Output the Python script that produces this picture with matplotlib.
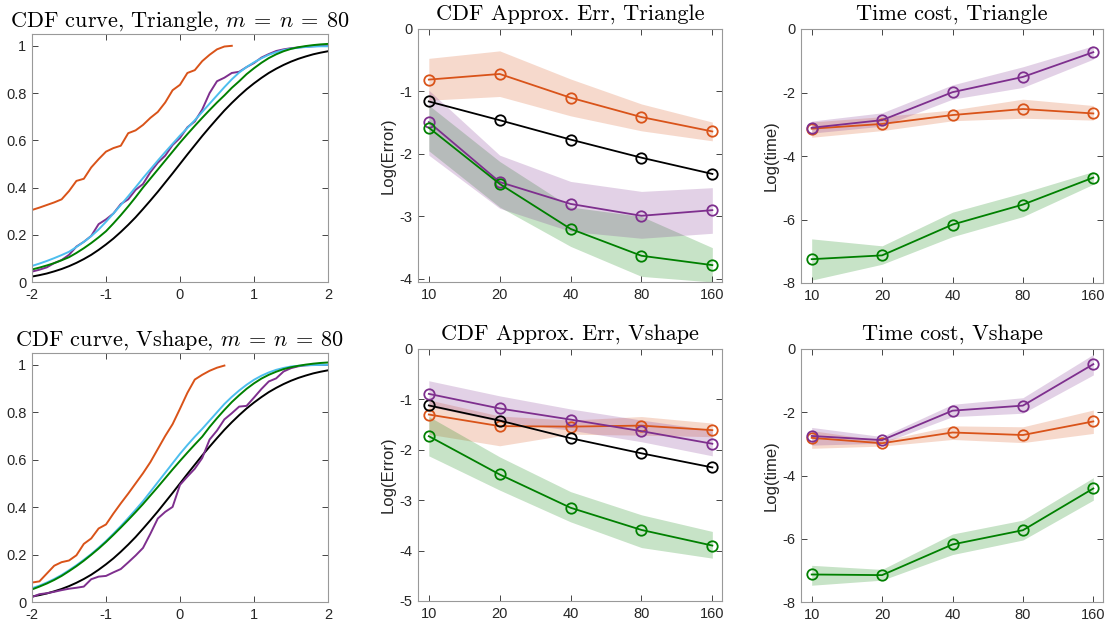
import numpy as np
import matplotlib.pyplot as plt

plt.rcParams['font.family'] = ['Liberation Sans', 'DejaVu Sans']
plt.rcParams['mathtext.fontset'] = 'cm'

ORANGE = '#D95319'
PURPLE = '#7E2F8E'
GREEN = '#008000'
CYAN = '#4DBEEE'
BLACK = '#000000'

# x grid of the CDF curves (-2 .. 2, step 0.1)
grid = np.round(np.linspace(-2, 2, 41), 1)
sizes = [10, 20, 40, 80, 160]

# ---- CDF curves, Triangle ----
true_cdf = [0.023, 0.029, 0.036, 0.045, 0.055, 0.067, 0.081, 0.097, 0.115, 0.136,
            0.159, 0.184, 0.212, 0.242, 0.274, 0.309, 0.345, 0.382, 0.421, 0.460,
            0.500, 0.540, 0.579, 0.618, 0.655, 0.691, 0.726, 0.758, 0.788, 0.816,
            0.841, 0.864, 0.885, 0.903, 0.919, 0.933, 0.945, 0.955, 0.964, 0.971, 0.977]
tri_orange = [0.305, 0.315, 0.326, 0.337, 0.350, 0.385, 0.428, 0.437, 0.485, 0.520,
              0.552, 0.567, 0.577, 0.630, 0.642, 0.665, 0.695, 0.720, 0.760, 0.812,
              0.835, 0.885, 0.897, 0.935, 0.962, 0.985, 0.997, 1.000]
tri_purple = [0.044, 0.052, 0.062, 0.080, 0.093, 0.115, 0.150, 0.170, 0.195, 0.245,
              0.265, 0.290, 0.330, 0.350, 0.390, 0.415, 0.465, 0.505, 0.535, 0.580,
              0.610, 0.655, 0.680, 0.730, 0.800, 0.850, 0.865, 0.885, 0.890, 0.910,
              0.927, 0.950, 0.965, 0.978, 0.985, 0.990, 0.993, 0.996, 0.998, 1.000, 1.000]
tri_cyan = [0.068, 0.078, 0.089, 0.101, 0.114, 0.128, 0.148, 0.170, 0.194, 0.222,
            0.255, 0.290, 0.326, 0.363, 0.401, 0.440, 0.477, 0.514, 0.550, 0.585,
            0.620, 0.652, 0.685, 0.720, 0.755, 0.790, 0.825, 0.858, 0.887, 0.910,
            0.930, 0.947, 0.962, 0.973, 0.982, 0.988, 0.992, 0.995, 0.997, 0.998, 0.998]
tri_green = [0.053, 0.061, 0.070, 0.080, 0.092, 0.105, 0.123, 0.143, 0.165, 0.189,
             0.215, 0.248, 0.283, 0.320, 0.359, 0.400, 0.438, 0.476, 0.514, 0.552,
             0.590, 0.626, 0.661, 0.695, 0.728, 0.760, 0.790, 0.822, 0.850, 0.880,
             0.905, 0.928, 0.948, 0.964, 0.977, 0.987, 0.994, 0.999, 1.003, 1.006, 1.008]

# ---- CDF curves, Vshape ----
vs_orange = [0.082, 0.087, 0.120, 0.153, 0.168, 0.175, 0.197, 0.245, 0.268, 0.310,
             0.327, 0.373, 0.416, 0.457, 0.500, 0.543, 0.590, 0.645, 0.700, 0.750,
             0.815, 0.882, 0.938, 0.958, 0.975, 0.988, 0.997]
vs_purple = [0.021, 0.033, 0.037, 0.043, 0.050, 0.056, 0.060, 0.065, 0.096, 0.107,
             0.110, 0.125, 0.139, 0.167, 0.196, 0.228, 0.288, 0.352, 0.380, 0.401,
             0.494, 0.529, 0.562, 0.607, 0.685, 0.723, 0.770, 0.796, 0.824, 0.827,
             0.862, 0.898, 0.930, 0.943, 0.972, 0.986, 0.994, 0.998, 1.000, 1.000, 1.000]
vs_cyan = [0.058, 0.069, 0.082, 0.097, 0.114, 0.134, 0.155, 0.178, 0.202, 0.229,
           0.257, 0.288, 0.320, 0.354, 0.389, 0.425, 0.465, 0.505, 0.545, 0.585,
           0.625, 0.662, 0.697, 0.730, 0.765, 0.800, 0.835, 0.865, 0.892, 0.916,
           0.937, 0.954, 0.968, 0.979, 0.987, 0.993, 0.996, 0.998, 0.999, 1.000, 1.000]
vs_green = [0.053, 0.065, 0.078, 0.093, 0.110, 0.130, 0.151, 0.174, 0.199, 0.225,
            0.253, 0.283, 0.314, 0.346, 0.379, 0.413, 0.449, 0.485, 0.522, 0.559,
            0.595, 0.630, 0.664, 0.697, 0.738, 0.775, 0.810, 0.843, 0.872, 0.899,
            0.922, 0.942, 0.958, 0.971, 0.982, 0.990, 0.996, 1.001, 1.005, 1.008, 1.010]

# ---- CDF approx. error, Triangle (line, upper, lower) ----
tri_err_black = [-1.16, -1.46, -1.77, -2.06, -2.32]
tri_err_orange = [-0.81, -0.72, -1.10, -1.41, -1.64]
tri_err_orange_hi = [-0.47, -0.35, -0.80, -1.20, -1.49]
tri_err_orange_lo = [-1.14, -1.08, -1.39, -1.63, -1.79]
tri_err_purple = [-1.49, -2.45, -2.80, -2.99, -2.90]
tri_err_purple_hi = [-0.98, -2.02, -2.44, -2.60, -2.54]
tri_err_purple_lo = [-2.02, -2.87, -3.24, -3.35, -3.27]
tri_err_green = [-1.58, -2.48, -3.20, -3.63, -3.78]
tri_err_green_hi = [-1.22, -2.12, -2.85, -3.00, -3.50]
tri_err_green_lo = [-1.95, -2.85, -3.48, -3.96, -4.05]

# ---- time cost, Triangle ----
tri_t_purple = [-3.11, -2.87, -1.99, -1.51, -0.73]
tri_t_purple_hi = [-2.90, -2.64, -1.76, -1.19, -0.53]
tri_t_purple_lo = [-3.28, -3.06, -2.21, -1.84, -0.95]
tri_t_orange = [-3.14, -2.99, -2.71, -2.52, -2.66]
tri_t_orange_hi = [-2.93, -2.76, -2.55, -2.21, -2.41]
tri_t_orange_lo = [-3.41, -3.20, -2.89, -2.81, -2.87]
tri_t_green = [-7.25, -7.13, -6.16, -5.53, -4.68]
tri_t_green_hi = [-6.61, -6.83, -5.77, -5.16, -4.49]
tri_t_green_lo = [-7.91, -7.41, -6.54, -5.91, -4.89]

# ---- CDF approx. error, Vshape ----
vs_err_black = [-1.12, -1.42, -1.77, -2.07, -2.35]
vs_err_purple = [-0.89, -1.18, -1.40, -1.63, -1.88]
vs_err_purple_hi = [-0.63, -0.93, -1.19, -1.41, -1.61]
vs_err_purple_lo = [-1.14, -1.44, -1.61, -1.84, -2.12]
vs_err_orange = [-1.30, -1.53, -1.54, -1.52, -1.61]
vs_err_orange_hi = [-1.01, -1.33, -1.41, -1.34, -1.47]
vs_err_orange_lo = [-1.69, -1.92, -1.69, -1.71, -1.74]
vs_err_green = [-1.73, -2.49, -3.15, -3.59, -3.90]
vs_err_green_hi = [-1.34, -2.14, -2.83, -3.29, -3.62]
vs_err_green_lo = [-2.12, -2.80, -3.43, -3.94, -4.15]

# ---- time cost, Vshape ----
vs_t_purple = [-2.75, -2.88, -1.95, -1.79, -0.48]
vs_t_purple_hi = [-2.48, -2.77, -1.75, -1.54, -0.17]
vs_t_purple_lo = [-3.04, -2.98, -2.14, -2.03, -0.82]
vs_t_orange = [-2.81, -2.98, -2.64, -2.72, -2.29]
vs_t_orange_hi = [-2.58, -2.90, -2.43, -2.46, -1.93]
vs_t_orange_lo = [-3.14, -3.07, -2.86, -2.96, -2.67]
vs_t_green = [-7.13, -7.15, -6.18, -5.73, -4.41]
vs_t_green_hi = [-6.84, -6.97, -5.85, -5.41, -4.07]
vs_t_green_lo = [-7.47, -7.31, -6.50, -6.04, -4.78]


def style(ax):
    ax.tick_params(direction='in', top=True, right=True, length=4, width=0.6,
                   color='#262626', labelcolor='#262626', labelsize=10.5, pad=4)
    ax.tick_params(which='minor', length=0)
    for s in ax.spines.values():
        s.set_linewidth(0.8)
        s.set_color('#999999')


def cdf_panel(ax, title, curves):
    for xs, ys, c in curves:
        ax.plot(xs, ys, color=c, lw=1.4)
    ax.set_xlim(-2, 2)
    ax.set_ylim(0, 1.05)
    ax.set_xticks([-2, -1, 0, 1, 2])
    ax.set_xticklabels(['-2', '-1', '0', '1', '2'])
    ax.set_yticks([0, 0.2, 0.4, 0.6, 0.8, 1])
    ax.set_yticklabels(['0', '0.2', '0.4', '0.6', '0.8', '1'])
    ax.set_title(title, fontsize=16, family='cmr10', pad=5)
    style(ax)


def band_panel(ax, title, ylabel, bands, lines, ylim, yticks):
    for lo, hi, c in bands:
        ax.fill_between(sizes, lo, hi, color=c, alpha=0.22, lw=0)
    for ys, c in lines:
        ax.plot(sizes, ys, color=c, lw=1.3, marker='o', ms=7.5, mfc='none', mew=1.3)
    ax.set_xscale('log', base=2)
    ax.set_xlim(9, 176)
    ax.set_xticks(sizes)
    ax.set_xticklabels([str(s) for s in sizes])
    ax.set_ylim(*ylim)
    ax.set_yticks(yticks)
    ax.set_yticklabels([str(t) for t in yticks])
    ax.set_ylabel(ylabel, fontsize=12, color='#262626', labelpad=3)
    ax.set_title(title, fontsize=16, family='cmr10', pad=7)
    style(ax)


fig = plt.figure(figsize=(11.08, 6.25), dpi=100)

ax1 = fig.add_axes([0.0289, 0.5488, 0.2671, 0.3968])
cdf_panel(ax1, r'CDF curve, Triangle, $m\:=\:n\:=\:80$',
          [(grid, true_cdf, BLACK), (grid[:len(tri_orange)], tri_orange, ORANGE),
           (grid, tri_purple, PURPLE), (grid, tri_cyan, CYAN), (grid, tri_green, GREEN)])

ax2 = fig.add_axes([0.3773, 0.5488, 0.2744, 0.4048])
band_panel(ax2, 'CDF Approx. Err, Triangle', 'Log(Error)',
           [(tri_err_orange_lo, tri_err_orange_hi, ORANGE),
            (tri_err_green_lo, tri_err_green_hi, GREEN),
            (tri_err_purple_lo, tri_err_purple_hi, PURPLE)],
           [(tri_err_orange, ORANGE), (tri_err_black, BLACK),
            (tri_err_purple, PURPLE), (tri_err_green, GREEN)],
           (-4.05, 0), [-4, -3, -2, -1, 0])

ax3 = fig.add_axes([0.7229, 0.5472, 0.2726, 0.4064])
band_panel(ax3, 'Time cost, Triangle', 'Log(time)',
           [(tri_t_orange_lo, tri_t_orange_hi, ORANGE),
            (tri_t_purple_lo, tri_t_purple_hi, PURPLE),
            (tri_t_green_lo, tri_t_green_hi, GREEN)],
           [(tri_t_orange, ORANGE), (tri_t_purple, PURPLE), (tri_t_green, GREEN)],
           (-8, 0), [-8, -6, -4, -2, 0])

ax4 = fig.add_axes([0.0289, 0.0368, 0.2671, 0.3984])
cdf_panel(ax4, r'CDF curve, Vshape, $m\:=\:n\:=\:80$',
          [(grid, true_cdf, BLACK), (grid[:len(vs_orange)], vs_orange, ORANGE),
           (grid, vs_purple, PURPLE), (grid, vs_cyan, CYAN), (grid, vs_green, GREEN)])

ax5 = fig.add_axes([0.3773, 0.0384, 0.2744, 0.4032])
band_panel(ax5, 'CDF Approx. Err, Vshape', 'Log(Error)',
           [(vs_err_orange_lo, vs_err_orange_hi, ORANGE),
            (vs_err_purple_lo, vs_err_purple_hi, PURPLE),
            (vs_err_green_lo, vs_err_green_hi, GREEN)],
           [(vs_err_orange, ORANGE), (vs_err_black, BLACK),
            (vs_err_purple, PURPLE), (vs_err_green, GREEN)],
           (-5, 0), [-5, -4, -3, -2, -1, 0])

ax6 = fig.add_axes([0.7229, 0.0368, 0.2726, 0.4048])
band_panel(ax6, 'Time cost, Vshape', 'Log(time)',
           [(vs_t_orange_lo, vs_t_orange_hi, ORANGE),
            (vs_t_purple_lo, vs_t_purple_hi, PURPLE),
            (vs_t_green_lo, vs_t_green_hi, GREEN)],
           [(vs_t_orange, ORANGE), (vs_t_purple, PURPLE), (vs_t_green, GREEN)],
           (-8, 0), [-8, -6, -4, -2, 0])

fig.savefig('out.png', dpi=100)
